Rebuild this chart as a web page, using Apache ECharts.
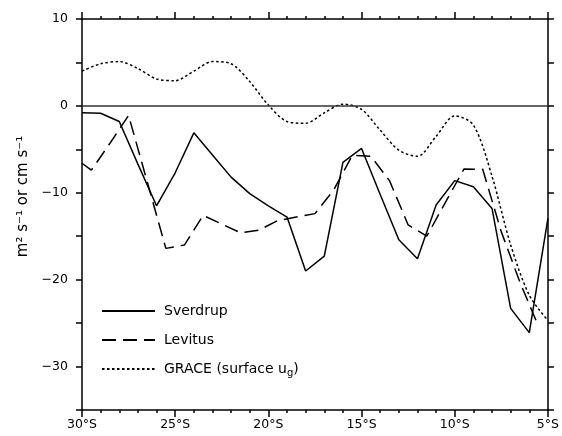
<!DOCTYPE html>
<html>
<head>
<meta charset="utf-8">
<script src="https://cdn.jsdelivr.net/npm/echarts@6/dist/echarts.min.js"></script>
<style>html,body{margin:0;padding:0;background:#fff;}#c{width:562px;height:436px;}</style>
</head>
<body>
<div id="c"></div>
<script>
// Latitudes (negative = south)
const sverdrupLat = [-30,-29,-28,-27,-26,-25,-24,-23,-22,-21,-20,-19,-18,-17,-16,-15,-14,-13,-12,-11,-10,-9,-8,-7,-6,-5];
const sverdrup    = [-0.8,-0.85,-1.8,-6.7,-11.5,-7.7,-3.1,-5.65,-8.2,-10.1,-11.5,-12.8,-19.0,-17.3,-6.5,-4.9,-10.2,-15.4,-17.6,-11.4,-8.6,-9.3,-11.8,-23.3,-26.1,-12.95];

const levitusLat = [-30,-29.5,-28.5,-27.5,-26.5,-25.5,-24.5,-23.5,-22.5,-21.5,-20.5,-19.5,-18.5,-17.5,-16.5,-15.5,-14.5,-13.5,-12.5,-11.5,-10.5,-9.5,-8.5,-7.5,-6.5,-5.5];
const levitus    = [-6.6,-7.4,-4.3,-1.1,-8.75,-16.4,-16.0,-12.6,-13.6,-14.6,-14.3,-13.2,-12.8,-12.4,-9.7,-5.7,-5.8,-8.6,-13.7,-15.0,-11.1,-7.25,-7.3,-14.5,-20.3,-25.4];

const graceLat = [-30,-29,-28,-27,-26,-25,-24,-23,-22,-21,-20,-19,-18,-17,-16,-15,-14,-13,-12,-11,-10,-9,-8,-7,-6,-5];
const grace    = [4.0,4.85,5.1,4.3,3.1,2.9,4.0,5.1,4.85,2.8,0.1,-1.8,-2.0,-0.8,0.2,-0.4,-2.8,-5.1,-5.8,-3.5,-1.15,-2.2,-8.1,-16.0,-21.8,-24.7];

const seriesNames = ['Sverdrup', 'Levitus', 'GRACE (surface u_g)'];
const yAxisTitle = 'm\u00B2 s\u207B\u00B9 or cm s\u207B\u00B9';

const zip = (xs, ys) => xs.map((x, i) => [x, ys[i]]);
const FONT = 'DejaVu Sans';

const xAxisBase = {
  type: 'value', min: -30, max: -5, interval: 5,
  axisLine: { show: true, onZero: false, lineStyle: { color: '#000', width: 1.5 } },
  axisTick: { show: true, inside: false, length: 7, lineStyle: { color: '#000', width: 1.5 } },
  minorTick: { show: true, splitNumber: 5, length: 3, lineStyle: { color: '#000', width: 1.5 } },
  splitLine: { show: false }
};
const yAxisBase = {
  type: 'value', min: -35, max: 10, interval: 5,
  axisLine: { show: true, onZero: false, lineStyle: { color: '#000', width: 1.5 } },
  axisTick: { show: true, inside: false, length: 6, lineStyle: { color: '#000', width: 1.5 } },
  splitLine: { show: false }
};

const chart = echarts.init(document.getElementById('c'), null, { renderer: 'canvas' });
chart.setOption({
  animation: false,
  backgroundColor: '#fff',
  grid: { left: 82, right: 14, top: 19, bottom: 26, containLabel: false },
  xAxis: [
    Object.assign({}, xAxisBase, {
      position: 'bottom',
      axisLabel: { show: true, margin: 8, color: '#000', fontFamily: FONT, fontSize: 12.5,
        formatter: v => Math.abs(v) + '\u00B0S' }
    }),
    Object.assign({}, xAxisBase, { position: 'top', axisLabel: { show: false } })
  ],
  yAxis: [
    Object.assign({}, yAxisBase, {
      position: 'left',
      name: yAxisTitle, nameLocation: 'middle', nameRotate: 90, nameGap: 42,
      nameTextStyle: { color: '#000', fontFamily: FONT, fontSize: 15, padding: [0, 0, 0, 36] },
      axisLabel: { show: true, margin: 14, color: '#000', fontFamily: FONT, fontSize: 12.5,
        formatter: v => (v % 10 === 0 ? (v < 0 ? '\u2212' + Math.abs(v) : String(v)) : '') }
    }),
    Object.assign({}, yAxisBase, { position: 'right', axisLabel: { show: false } })
  ],
  legend: {
    orient: 'vertical', left: 96, top: 299,
    itemWidth: 53, itemHeight: 14, itemGap: 15,
    data: seriesNames,
    itemStyle: { opacity: 0 },
    formatter: n => n.replace('u_g', 'u{sub|g}'),
    textStyle: { color: '#000', fontFamily: FONT, fontSize: 14, padding: [0, 0, 0, 4],
      rich: { sub: { fontSize: 10, fontFamily: FONT, color: '#000', padding: [9, 0, 0, 0] } } }
  },
  series: [
    {
      name: seriesNames[0], type: 'line', data: zip(sverdrupLat, sverdrup),
      symbol: 'none', clip: true,
      lineStyle: { color: '#000', width: 1.5, type: 'solid' },
      itemStyle: { color: '#000' },
      markLine: { silent: true, symbol: ['none', 'none'], label: { show: false },
        lineStyle: { color: '#333', width: 1.5, type: 'solid' },
        data: [{ yAxis: 0 }] }
    },
    {
      name: seriesNames[1], type: 'line', data: zip(levitusLat, levitus),
      symbol: 'none', clip: true,
      lineStyle: { color: '#000', width: 1.5, type: [14, 7] },
      itemStyle: { color: '#000' }
    },
    {
      name: seriesNames[2], type: 'line', data: zip(graceLat, grace),
      symbol: 'none', clip: true, smooth: 0.3,
      lineStyle: { color: '#000', width: 1.5, type: [2.5, 2.5] },
      itemStyle: { color: '#000' }
    }
  ]
});
</script>
</body>
</html>
